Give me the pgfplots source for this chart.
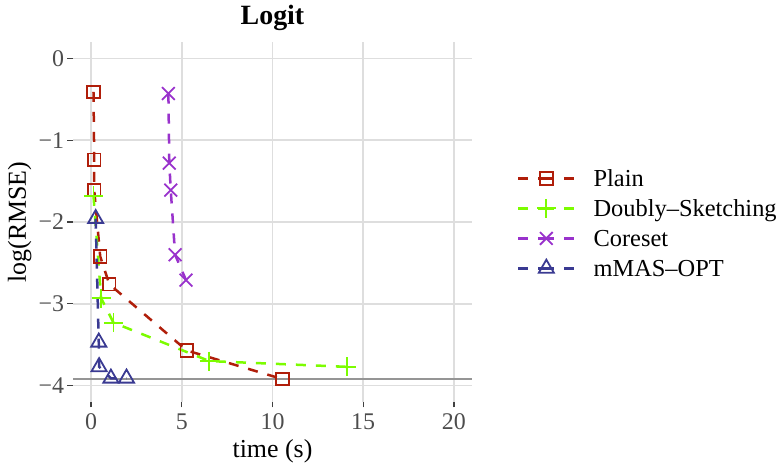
\documentclass[border=0pt]{standalone}
\usepackage{pgfplots}
\pgfplotsset{compat=1.18}
\usepackage{fontspec}
\setmainfont{Liberation Serif}
\definecolor{cPlain}{HTML}{B01E0A}
\definecolor{cDS}{HTML}{7CFC00}
\definecolor{cCore}{HTML}{9932CC}
\definecolor{cMAS}{HTML}{3A3A92}
\definecolor{gridc}{HTML}{DEDEDE}
\definecolor{tickc}{HTML}{4D4D4D}
\definecolor{hlc}{HTML}{959595}
\begin{document}
\begin{tikzpicture}
\useasboundingbox (0,0) rectangle (783bp,467bp);
\begin{axis}[
  at={(73bp,65bp)}, anchor=south west,
  scale only axis, width=399bp, height=360bp,
  xmin=-1, xmax=21, ymin=-4.2, ymax=0.2,
  xtick={0,5,10,15,20}, xticklabels={0,5,10,15,20},
  ytick={-4,-3,-2,-1,0}, yticklabels={−4,−3,−2,−1,0},
  axis line style={draw=none},
  xtick pos=left, ytick pos=left,
  tick align=outside, major tick length=5.5bp,
  tick style={color=black!75, line width=1.3bp},
  grid=major, major grid style={color=gridc, line width=1.4bp},
  ticklabel style={font=\fontsize{24}{28}\selectfont, text=tickc},
  xticklabel style={yshift=-3bp},
  title={Logit},
  title style={font=\fontsize{28}{32}\selectfont\bfseries, at={(axis description cs:0.5,1.032)}, anchor=base},
  xlabel={time (s)},
  xlabel style={font=\fontsize{26}{30}\selectfont, at={(axis description cs:0.5,-0.153)}, anchor=base},
  ylabel={log(RMSE)},
  ylabel style={font=\fontsize{26}{30}\selectfont, at={(axis description cs:-0.118,0.5)}, anchor=base, rotate=0},
  legend style={draw=none, fill=none, inner sep=0pt, outer sep=0pt,
    at={(axis description cs:1.113,0.66)}, anchor=north west,
    font=\fontsize{24.5}{28}\selectfont,
    row sep=2bp, column sep=18bp,
    nodes={inner sep=0pt, text height=22bp, text depth=6bp}},
  legend cell align=left,
  legend image code/.code={
    \draw[#1,solid] (0bp,0bp)--(10bp,0bp) (20bp,0bp)--(36bp,0bp) (46bp,0bp)--(56bp,0bp);
    \draw[#1,solid] plot coordinates {(28bp,0bp)};
  },
  every axis plot/.append style={line width=2.5bp, dash pattern=on 10bp off 10bp},
]
\addplot[hlc, line width=1.8bp, solid, forget plot] coordinates {(-1,-3.92) (21,-3.92)};

\addplot[cPlain, mark=square, mark size=6.3bp, mark options={solid, line width=1.8bp}]
coordinates {(0.13,-0.41) (0.17,-1.24) (0.17,-1.61) (0.5,-2.42) (1.0,-2.76) (5.27,-3.57) (10.55,-3.92)};
\addlegendentry{Plain}

\addplot[cDS, mark=+, mark size=9.5bp, mark options={solid, line width=1.8bp}]
coordinates {(0.13,-1.68) (0.55,-2.93) (1.23,-3.23) (6.52,-3.70) (14.09,-3.77)};
\addlegendentry{Doubly–Sketching}

\addplot[cCore, mark=x, mark size=9bp, mark options={solid, line width=1.8bp}]
coordinates {(4.26,-0.43) (4.31,-1.28) (4.39,-1.61) (4.63,-2.40) (5.23,-2.71)};
\addlegendentry{Coreset}

\addplot[cMAS, mark=triangle, mark size=8.7bp, mark options={solid, line width=1.8bp}]
coordinates {(0.25,-1.96) (0.42,-3.47) (0.44,-3.77) (1.09,-3.91) (1.95,-3.91)};
\addlegendentry{mMAS–OPT}
\end{axis}
\end{tikzpicture}
\end{document}
